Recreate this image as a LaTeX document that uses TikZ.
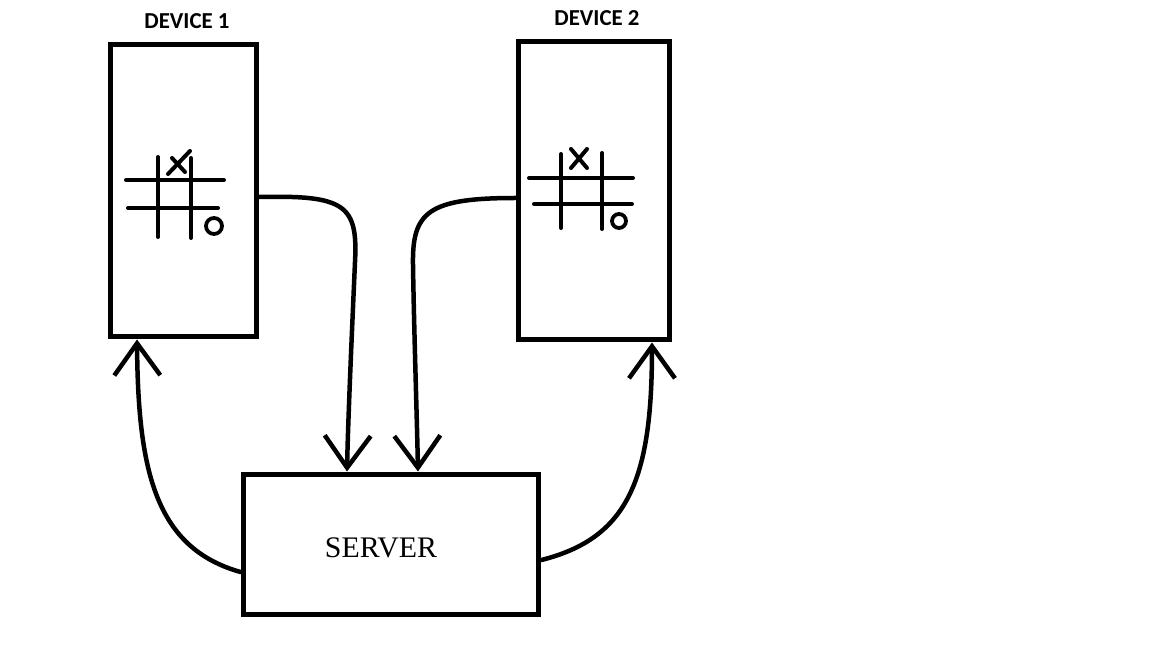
\documentclass[tikz,border=0pt]{standalone}
\usepackage{fontspec}
\setmainfont{Liberation Serif}
\newfontfamily\labelfont{Carlito}
\usetikzlibrary{arrows.meta}
\begin{document}
\begin{tikzpicture}[x=0.02cm,y=-0.02cm,
  box/.style={draw=black,line width=0.1cm,inner sep=0pt,fill=white},
  conn/.style={line width=0.09cm,line cap=round,-{Straight Barb[length=0.64cm,width=0.92cm,line width=0.09cm]}},
  grid/.style={line width=0.08cm,line cap=round},
  devlabel/.style={font=\labelfont\bfseries\fontsize{13}{15}\selectfont,inner sep=0pt}]
\useasboundingbox[fill=white] (0,0) rectangle (1152,648);
\node[box,minimum width=2.94cm,minimum height=5.86cm] (d1) at (183.5,190.5) {};
\node[box,minimum width=3.04cm,minimum height=5.98cm] (d2) at (594,190.5) {};
\node[box,minimum width=5.92cm,minimum height=2.82cm] (srv) at (391,544.5) {};
\node[inner sep=0pt,font=\fontsize{17}{19}\selectfont] (srvlabel) at (381,548) {SERVER};
\node[devlabel] (l1) at (187,21) {DEVICE 1};
\node[devlabel] (l2) at (597,18) {DEVICE 2};
% icon 1
\draw[grid] (158,157) -- (158,237);
\draw[grid] (191,158) -- (191,238);
\draw[grid] (126,180) -- (224,180);
\draw[grid] (128,208) -- (218,208);
\draw[grid] (172,158) -- (185,172);
\draw[grid] (190,151) -- (168,174);
\draw[line width=0.075cm] (214,226) circle (8);
% icon 2
\draw[grid] (561,154) -- (561,228);
\draw[grid] (602,153) -- (602,229);
\draw[grid] (529,178) -- (633,178);
\draw[grid] (534,204) -- (632,204);
\draw[grid] (571,149) -- (587,168);
\draw[grid] (587,149) -- (571,168);
\draw[line width=0.075cm] (619,221) circle (7);
% connectors
\draw[conn] ([yshift=-0.13cm]d1.east) .. controls (345,195) and (358,205) .. (355,262)
   .. controls (352,330) and (348,420) .. ([xshift=-0.88cm]srv.north);
\draw[conn] ([yshift=-0.15cm]d2.west) .. controls (428,198) and (412,212) .. (413,265)
   .. controls (414,330) and (417,420) .. ([xshift=0.54cm]srv.north);
\draw[conn] ([yshift=-0.55cm]srv.west) .. controls (155,548) and (138,470) .. ([xshift=-0.93cm]d1.south);
\draw[conn] ([yshift=-0.31cm]srv.east) .. controls (628,538) and (652,480) .. ([xshift=1.16cm]d2.south);
\end{tikzpicture}
\end{document}
